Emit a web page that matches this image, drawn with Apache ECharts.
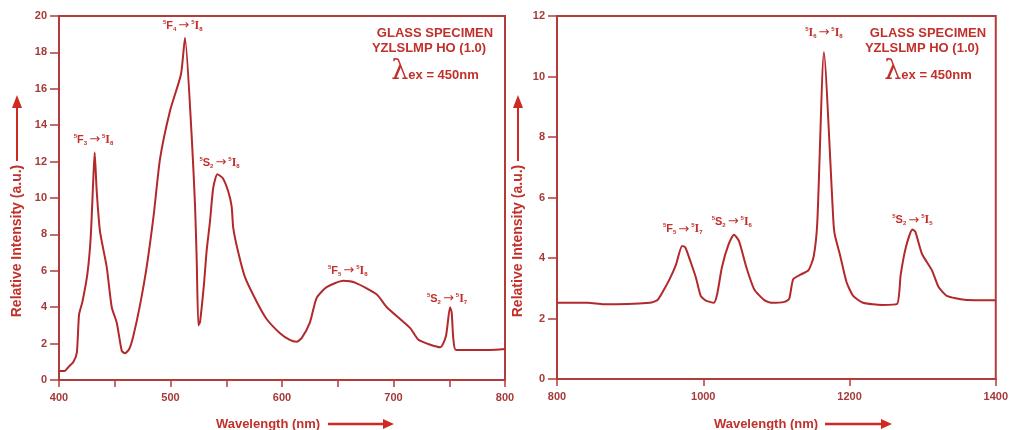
<!DOCTYPE html>
<html>
<head>
<meta charset="utf-8">
<script src="https://cdn.jsdelivr.net/npm/echarts@6/dist/echarts.min.js"></script>
<style>
html,body{margin:0;padding:0;background:#fff;}
#chart{width:1011px;height:430px;}
</style>
</head>
<body>
<div id="chart"></div>
<script>
// ---- data (wavelength nm, relative intensity a.u.) ----
const leftWavelength = [400,405,409,413,416,418,421,425.4,428.4,430.8,432,433.8,436.8,442.8,447.3,451.8,456.3,459.2,463,466.6,472.6,478.6,485,490.6,499.6,509.4,513,519,522,523.5,525,526.5,530,532.4,535.4,538.3,542,546.8,551.8,554.8,556.3,560.8,566.8,577.3,586.2,598.2,607,613,617.6,625,631,640,655,665.5,685,694,715,722.6,742,747,750.7,752.2,753.6,756,786.5,800];
const leftIntensity  = [0.5,0.5,0.75,1.0,1.5,3.6,4.3,5.8,7.8,11.1,12.5,10.4,8.15,6.2,4.0,3.15,1.6,1.47,1.7,2.4,4.1,6.2,9.1,12.15,14.8,16.8,18.8,13.4,9.6,6.6,3.0,3.2,5.25,7.1,8.7,10.55,11.3,11.1,10.36,9.55,8.35,7.0,5.65,4.3,3.35,2.57,2.2,2.1,2.3,3.15,4.5,5.1,5.45,5.35,4.7,4.0,2.85,2.2,1.8,2.4,4.0,3.7,2.3,1.65,1.65,1.7];

const rightWavelength = [800,842,864,927,937,945,954,963,971,975.5,983,990,996.5,1003,1014.5,1019,1025.6,1034.6,1042,1049,1059,1070,1084,1093,1111,1117.5,1123,1133,1144,1151,1156,1165,1178,1180,1187,1196,1205,1218.6,1245,1265,1270,1277,1286,1290,1299,1312.6,1321.6,1333,1357.6,1400];
const rightIntensity  = [2.52,2.52,2.47,2.52,2.6,2.9,3.3,3.8,4.4,4.35,3.85,3.35,2.75,2.6,2.52,2.8,3.7,4.45,4.77,4.55,3.69,2.95,2.6,2.52,2.55,2.65,3.3,3.45,3.6,4.05,5.2,10.8,5.2,4.75,4.1,3.2,2.75,2.52,2.45,2.48,3.45,4.35,4.94,4.87,4.14,3.6,3.05,2.75,2.62,2.6];

// transitions: [sup, letter, sub, sup, letter, sub]
const leftTransitions = [
  ['5','F','3','5','I','8'],
  ['5','F','4','5','I','8'],
  ['5','S','2','5','I','8'],
  ['5','F','5','5','I','8'],
  ['5','S','2','5','I','7']
];
const rightTransitions = [
  ['5','I','6','5','I','8'],
  ['5','F','5','5','I','7'],
  ['5','S','2','5','I','6'],
  ['5','S','2','5','I','5']
];
const specimenLines = ['GLASS SPECIMEN', 'YZLSLMP HO (1.0)', 'ex = 450nm'];
const xAxisTitle = 'Wavelength (nm)';
const yAxisTitle = 'Relative Intensity (a.u.)';

// ---- styles ----
const AX = '#b23c3a';
const LINE = '#b3282a';
const TXT = '#c1302b';
const LBL = '#a63a3a';
const ARW = '#cf2a22';

function pairs(xs, ys){ return xs.map((x,i)=>[x, ys[i]]); }
function trText(t){
  const first = t[1] === 'I' ? 'ser' : 'big';
  return '{sp|'+t[0]+'}{'+first+'|'+t[1]+'}{sb|'+t[2]+'}{ar|→}{sp|'+t[3]+'}{ser|'+t[4]+'}{sb|'+t[5]+'}';
}
const richTr = {
  sp:{fontSize:6,fontWeight:'bold',color:TXT,verticalAlign:'top',lineHeight:13,fontFamily:'Liberation Sans'},
  sb:{fontSize:6,fontWeight:'bold',color:TXT,verticalAlign:'bottom',lineHeight:13,fontFamily:'Liberation Sans'},
  big:{fontSize:11,fontWeight:'bold',color:TXT,lineHeight:13,fontFamily:'Liberation Sans'},
  ser:{fontSize:12,fontWeight:'bold',color:TXT,lineHeight:13,fontFamily:'Liberation Serif'},
  ar:{fontSize:13,color:TXT,lineHeight:13,fontFamily:'DejaVu Sans',padding:[0,2,0,2]}
};
function marks(trs, coords){
  return {
    symbol:'circle', symbolSize:1, silent:true,
    itemStyle:{color:'rgba(0,0,0,0)'},
    label:{show:true, position:'inside', formatter:(p)=>p.name, rich:richTr},
    data: trs.map((t,i)=>({name:trText(t), coord:coords[i]}))
  };
}

function xAxisCfg(idx, min, max, interval, labelEvery){
  return {
    type:'value', gridIndex:idx, min:min, max:max, interval:interval,
    axisLine:{show:true, lineStyle:{color:AX, width:2}},
    axisTick:{show:true, length:7, lineStyle:{color:AX, width:1.5}},
    splitLine:{show:false},
    axisLabel:{color:LBL, fontSize:11, fontWeight:'bold', fontFamily:'Liberation Sans', margin:12,
      formatter:(v)=> (v % labelEvery === 0 ? String(v) : '')}
  };
}
function yAxisCfg(idx, max){
  return {
    type:'value', gridIndex:idx, min:0, max:max, interval:2,
    axisLine:{show:true, lineStyle:{color:AX, width:2}},
    axisTick:{show:true, length:9, lineStyle:{color:AX, width:1.5}},
    splitLine:{show:false},
    axisLabel:{color:LBL, fontSize:11, fontWeight:'bold', fontFamily:'Liberation Sans', margin:12}
  };
}

function specimen(cx){
  return [
    {type:'text', x:cx, y:33, style:{text:specimenLines[0], fill:TXT, font:'bold 13px "Liberation Sans"', textAlign:'center', textVerticalAlign:'middle'}},
    {type:'text', x:cx-6, y:48, style:{text:specimenLines[1], fill:TXT, font:'bold 13px "Liberation Sans"', textAlign:'center', textVerticalAlign:'middle'}},
    {type:'text', x:cx, y:70, style:{
      text:'{l|λ}{t|'+specimenLines[2]+'}', textAlign:'center', textVerticalAlign:'middle',
      rich:{l:{fontSize:27, fontFamily:'DejaVu Serif', fill:TXT, color:TXT, lineHeight:30, verticalAlign:'bottom'},
            t:{fontSize:13, fontWeight:'bold', fontFamily:'Liberation Sans', fill:TXT, color:TXT, lineHeight:30, verticalAlign:'bottom', padding:[0,0,3,0]}}
    }}
  ];
}
function yName(x){
  return [
    {type:'text', x:x, y:241, rotation:Math.PI/2, style:{text:yAxisTitle, fill:TXT, font:'bold 14px "Liberation Sans"', textAlign:'center', textVerticalAlign:'middle'}},
    {type:'line', shape:{x1:x, y1:161, x2:x, y2:105}, style:{stroke:ARW, lineWidth:2}},
    {type:'polygon', shape:{points:[[x-5,108],[x+5,108],[x,95]]}, style:{fill:ARW}}
  ];
}
function xName(cx, a1, a2){
  return [
    {type:'text', x:cx, y:424, style:{text:xAxisTitle, fill:TXT, font:'bold 13px "Liberation Sans"', textAlign:'center', textVerticalAlign:'middle'}},
    {type:'line', shape:{x1:a1, y1:424, x2:a2-8, y2:424}, style:{stroke:ARW, lineWidth:2.5}},
    {type:'polygon', shape:{points:[[a2-11,419],[a2-11,429],[a2,424]]}, style:{fill:ARW}}
  ];
}

const chart = echarts.init(document.getElementById('chart'), null, {renderer:'canvas'});
chart.setOption({
  animation:false,
  backgroundColor:'#fff',
  grid:[
    {left:59, top:16, width:446, height:364, show:true, borderColor:AX, borderWidth:2, containLabel:false},
    {left:557, top:16, width:446, height:363, show:true, borderColor:AX, borderWidth:2, containLabel:false}
  ],
  xAxis:[ xAxisCfg(0,400,800,50,100), xAxisCfg(1,800,1400,200,200) ],
  yAxis:[ yAxisCfg(0,20), yAxisCfg(1,12) ],
  series:[
    {type:'line', xAxisIndex:0, yAxisIndex:0, data:pairs(leftWavelength,leftIntensity),
     showSymbol:false, smooth:0.2, lineStyle:{color:LINE, width:2}, itemStyle:{color:LINE},
     markPoint: marks(leftTransitions, [[431,13.2],[511,19.45],[544,11.95],[659,6.0],[748,4.45]])},
    {type:'line', xAxisIndex:1, yAxisIndex:1, data:pairs(rightWavelength,rightIntensity),
     showSymbol:false, smooth:0.2, lineStyle:{color:LINE, width:2}, itemStyle:{color:LINE},
     markPoint: marks(rightTransitions, [[1165,11.45],[972,4.95],[1039,5.2],[1286,5.25]])}
  ],
  graphic:[].concat(specimen(435), specimen(928), yName(17), yName(518), xName(268,328,394), xName(766,825,892))
});
</script>
</body>
</html>
